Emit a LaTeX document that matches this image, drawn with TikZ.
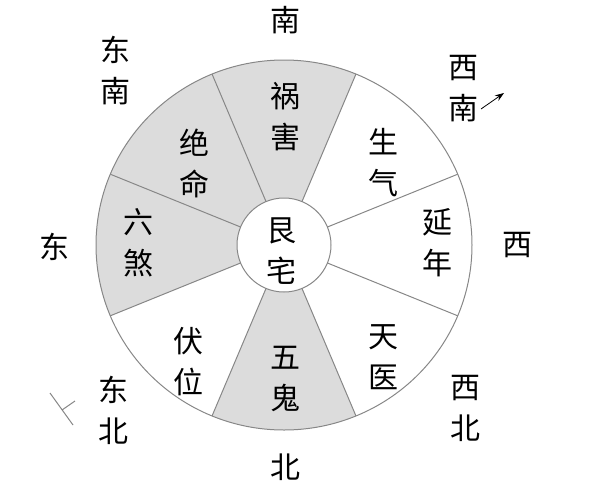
\documentclass[tikz,border=0pt]{standalone}
\usepackage{fontspec}
\newfontfamily\cjk{Noto Sans CJK SC}
\usepackage{tikz}
\usetikzlibrary{arrows.meta}
\definecolor{sectorgray}{RGB}{220,220,220}
\definecolor{linegray}{RGB}{135,135,135}

\begin{document}
\begin{tikzpicture}[x=1pt, y=-1pt,
    txt/.style = {align=center, inner sep=0pt, font=\cjk\fontsize{30}{41}\selectfont},
    rim/.style = {draw=linegray, line width=1pt}]
            \useasboundingbox (0,0) rectangle (597,483);

            % wheel, drawn about its centre
            \begin{scope}[shift={(284,245)}, y=1pt]
                \foreach \a in {90,135,180,270}
                    \fill[sectorgray] (\a-22.5:47) -- (\a-22.5:188 and 185)
                        arc[start angle=\a-22.5, end angle=\a+22.5, x radius=188, y radius=185]
                        -- (\a+22.5:47) arc[start angle=\a+22.5, end angle=\a-22.5, radius=47] -- cycle;
                \foreach \a in {22.5,67.5,...,337.5}
                    \draw[rim] (\a:47) -- (\a:188 and 185);
                \draw[rim] (0,0) ellipse[x radius=188, y radius=185];
                \node[circle, draw=linegray, line width=1pt, fill=white, minimum size=94pt] (hub) at (0,0) {};
            \end{scope}

            \node[txt] (genzhai) at (281,251) {艮\\宅};

            \node[txt] (huohai) at (285,117) {祸\\害};
            \node[txt] (shengqi) at (383,163) {生\\气};
            \node[txt] (yannian) at (437,243) {延\\年};
            \node[txt] (tianyi) at (383,357) {天\\医};
            \node[txt] (wugui) at (285,379) {五\\鬼};
            \node[txt] (fuwei) at (188,362) {伏\\位};
            \node[txt] (liusha) at (138,243) {六\\煞};
            \node[txt] (jueming) at (194,163) {绝\\命};

            \node[txt] (nan) at (285,20) {南};
            \node[txt] (dongnan) at (115,71) {东\\南};
            \node[txt] (xinan) at (463,89) {西\\南};
            \node[txt] (xi) at (517,245) {西};
            \node[txt] (dong) at (54,247) {东};
            \node[txt] (dongbei) at (113,410) {东\\北};
            \node[txt] (xibei) at (465,408) {西\\北};
            \node[txt] (bei) at (285,467) {北};

            \coordinate (arrowtail) at (481,109);
            \coordinate (arrowhead) at (504,93);
            \draw[-{Stealth[length=9pt, width=6.5pt]}, line width=0.8pt] (arrowtail) -- (arrowhead);

            \coordinate (ticktop) at (50,393);
            \coordinate (tickend) at (73,425);
            \coordinate (tickfoot) at (62,410);
            \coordinate (tickbranch) at (75,401);
            \draw[linegray, line width=1pt] (ticktop) -- (tickend);
            \draw[linegray, line width=1pt] (tickfoot) -- (tickbranch);
        \end{tikzpicture}
\end{document}
